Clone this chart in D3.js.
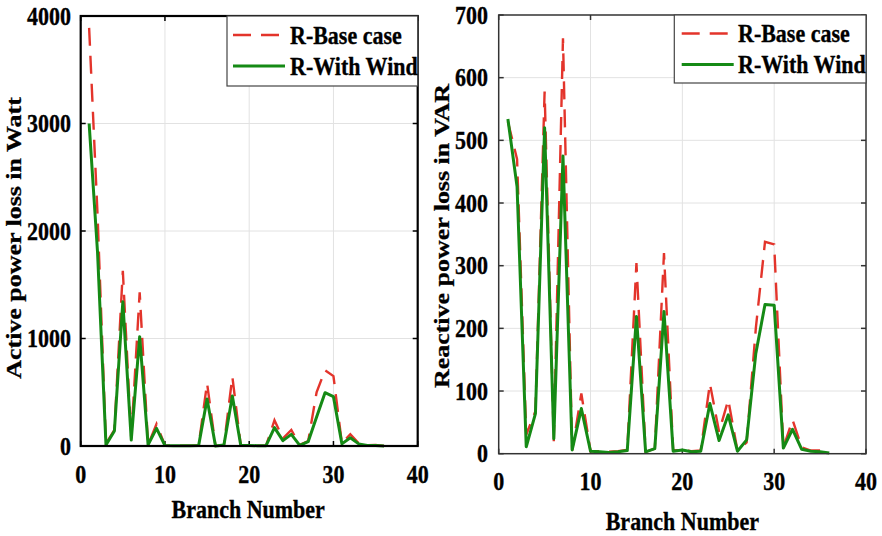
<!DOCTYPE html>
<html><head><meta charset="utf-8">
<script src="https://cdn.jsdelivr.net/npm/d3@7"></script>
<style>body{margin:0;background:#fff}svg{display:block}</style>
</head><body>
<svg id="c" width="882" height="536"></svg>
<script>
const branches = [1,2,3,4,5,6,7,8,9,10,11,12,13,14,15,16,17,18,19,20,21,22,23,24,25,26,27,28,29,30,31,32,33,34,35,36];
const activeBase = [3890,2150,20,150,1630,70,1430,10,205,5,3,2,3,5,585,0,10,645,5,5,3,3,240,70,150,10,45,500,705,650,25,109,25,8,10,0];
const activeWind = [3000,1800,10,140,1342,55,1017,10,164,5,3,2,3,5,437,0,10,465,5,5,3,3,171,50,108,5,40,270,496,459,20,77,20,5,5,0];
const reactBase = [530,470,30,68,578,20,663,5,96,4,4,3,4,6,304,3,8,320,5,6,4,5,112,35,86,5,18,200,338,334,10,54,10,5,5,2];
const reactWind = [534,426,11,64,520,24,475,6,72,4,3,2,3,5,219,3,8,227,4,6,3,4,80,21,62,4,22,160,238,237,9,39,7,4,3,1];
const xTicks = [0,10,20,30,40];
const yTicksActive = [0,1000,2000,3000,4000];
const yTicksReact = [0,100,200,300,400,500,600,700];
const seriesNames = ["R-Base case","R-With Wind"];

const svg = d3.select("#c");
const FONT = "'Liberation Serif','Times New Roman',serif";
const FS = 22, SY = 1.18;
const RED = "#e3342b", GREEN = "#158a15";

function txt(g, x, y, s, anchor, rot) {
  g.append("text")
    .attr("transform", `translate(${x},${y}) scale(1,${SY})` + (rot ? " rotate(-90)" : ""))
    .attr("text-anchor", anchor)
    .attr("font-family", FONT).attr("font-weight", "bold").attr("font-size", FS)
    .attr("fill", "#000").attr("stroke", "#000").attr("stroke-width", 0.3).text(s);
}

function panel(cfg) {
  const g = svg.append("g");
  const x = d3.scaleLinear().domain([0,40]).range([cfg.x0, cfg.x1]);
  const y = d3.scaleLinear().domain([0, cfg.ymax]).range([cfg.y0, cfg.y1]);
  g.selectAll(".gx").data(xTicks.slice(1,-1)).join("line")
    .attr("x1", d=>x(d)).attr("x2", d=>x(d)).attr("y1", cfg.y0).attr("y2", cfg.y1)
    .attr("stroke", "#e2e2e2").attr("stroke-width", 1);
  g.selectAll(".gy").data(cfg.yTicks.slice(1,-1)).join("line")
    .attr("x1", cfg.x0).attr("x2", cfg.x1).attr("y1", d=>y(d)).attr("y2", d=>y(d))
    .attr("stroke", "#e2e2e2").attr("stroke-width", 1);
  const tl = 5;
  cfg.yTicks.forEach(d => {
    g.append("line").attr("x1", cfg.x0).attr("x2", cfg.x0+tl).attr("y1", y(d)).attr("y2", y(d)).attr("stroke", cfg.axisColor).attr("stroke-width", 1.5);
    g.append("line").attr("x1", cfg.x1).attr("x2", cfg.x1-tl).attr("y1", y(d)).attr("y2", y(d)).attr("stroke", cfg.axisColor).attr("stroke-width", 1.5);
  });
  xTicks.forEach(d => {
    g.append("line").attr("x1", x(d)).attr("x2", x(d)).attr("y1", cfg.y0).attr("y2", cfg.y0-tl).attr("stroke", cfg.axisColor).attr("stroke-width", 1.5);
    g.append("line").attr("x1", x(d)).attr("x2", x(d)).attr("y1", cfg.y1).attr("y2", cfg.y1+tl).attr("stroke", cfg.axisColor).attr("stroke-width", 1.5);
  });
  const line = d3.line().x((d,i)=>x(branches[i])).y(d=>y(d));
  g.append("path").datum(cfg.base).attr("d", line).attr("fill","none")
    .attr("stroke", RED).attr("stroke-width", 2.4).attr("stroke-dasharray","18,10");
  g.append("path").datum(cfg.wind).attr("d", line).attr("fill","none")
    .attr("stroke", GREEN).attr("stroke-width", 3).attr("stroke-linejoin","round");
  g.append("rect").attr("x", cfg.x0).attr("y", cfg.y1).attr("width", cfg.x1-cfg.x0).attr("height", cfg.y0-cfg.y1)
    .attr("fill","none").attr("stroke", cfg.axisColor).attr("stroke-width", cfg.boxW);
  cfg.yTicks.forEach(d => txt(g, cfg.ylabX, y(d)+8.5, String(d), "end"));
  xTicks.forEach(d => txt(g, x(d), cfg.y0+cfg.xlabDy, String(d), "middle"));
  txt(g, (cfg.x0+cfg.x1)/2 - cfg.xtOff, cfg.xtY, "Branch Number", "middle");
  txt(g, cfg.ytX, cfg.ytYc, cfg.ytitle, "middle", true);
  const L = cfg.leg;
  g.append("rect").attr("x", L.x).attr("y", L.y).attr("width", L.w).attr("height", L.h)
    .attr("fill","#fff").attr("stroke","#444").attr("stroke-width",1.2);
  g.append("line").attr("x1", L.lx).attr("x2", L.lx+46).attr("y1", L.y1).attr("y2", L.y1)
    .attr("stroke", RED).attr("stroke-width", 2.6).attr("stroke-dasharray","18,10");
  g.append("line").attr("x1", L.lx).attr("x2", L.lx+52).attr("y1", L.y2).attr("y2", L.y2)
    .attr("stroke", GREEN).attr("stroke-width", 3);
  txt(g, L.tx, L.y1+8.5, seriesNames[0], "start");
  txt(g, L.tx, L.y2+8.5, seriesNames[1], "start");
}

panel({x0:80.7, x1:417.7, y0:446, y1:16, ymax:4000, yTicks:yTicksActive,
  base:activeBase, wind:activeWind, axisColor:"#000", boxW:2.2,
  ylabX:71, xlabDy:37, xtY:518, xtOff:1, ytX:21, ytYc:238,
  ytitle:"Active power loss in Watt",
  leg:{x:227, y:16, w:190.7, h:70, lx:233, y1:35, y2:66, tx:290}});

panel({x0:498.7, x1:866, y0:453.7, y1:15, ymax:700, yTicks:yTicksReact,
  base:reactBase, wind:reactWind, axisColor:"#333", boxW:1.5,
  ylabX:488, xlabDy:36, xtY:530, xtOff:0, ytX:449, ytYc:236,
  ytitle:"Reactive power loss in VAR",
  leg:{x:674.3, y:15, w:191.7, h:68, lx:681.7, y1:33.5, y2:64.5, tx:738}});
</script>
</body></html>
